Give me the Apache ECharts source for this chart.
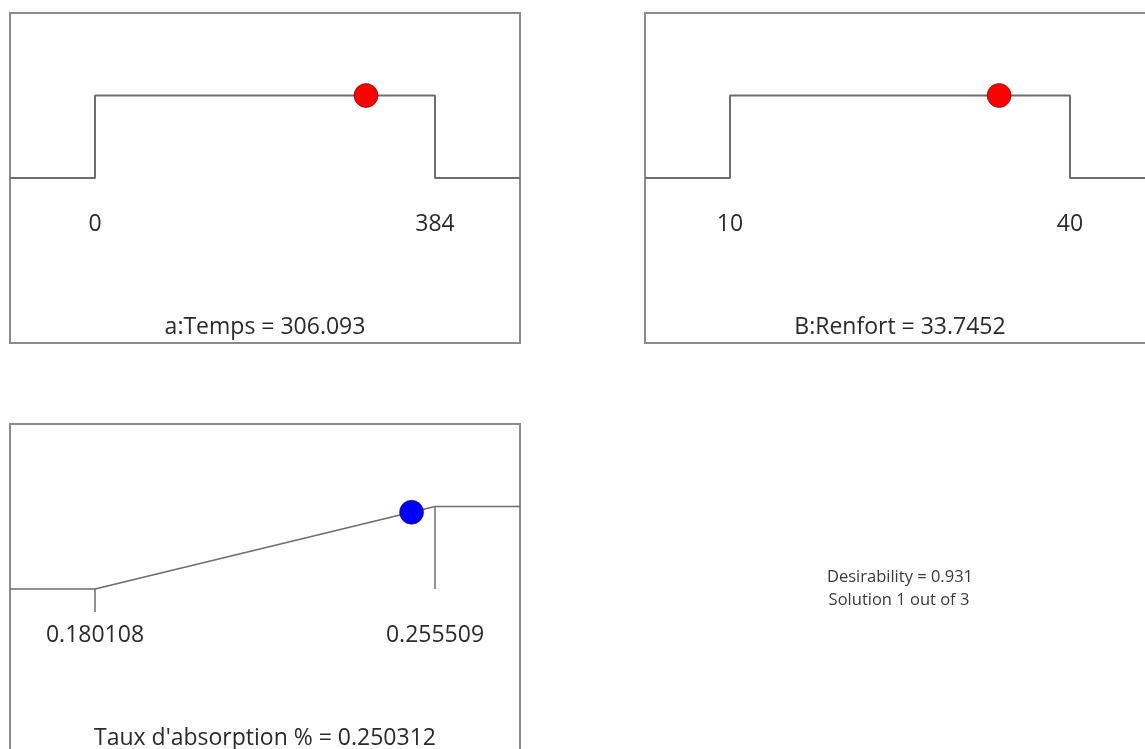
<!DOCTYPE html>
<html>
<head>
<meta charset="utf-8">
<script src="https://cdn.jsdelivr.net/npm/echarts@6/dist/echarts.min.js"></script>
<style>
  html, body { margin: 0; padding: 0; background: #ffffff; }
  #chart { width: 1145px; height: 749px; }
</style>
</head>
<body>
<div id="chart"></div>
<script>
// ---- data ----
const panelNames = ['a:Temps', 'B:Renfort', "Taux d'absorption %"];
const panelKinds = ['range', 'range', 'maximize'];
const lowLimits = [0, 10, 0.180108];
const highLimits = [384, 40, 0.255509];
const lowLabels = ['0', '10', '0.180108'];
const highLabels = ['384', '40', '0.255509'];
const solutionValues = [306.093, 33.7452, 0.250312];
const solutionLabels = ['306.093', '33.7452', '0.250312'];
const solutionDesirability = [1, 1, 0.931];
const dotColors = ['#ff0000', '#ff0000', '#0000ff'];
const overallDesirability = '0.931';
const solutionNumber = 1;
const solutionCount = 3;

// ---- layout ----
const boxes = [
  { left: 10, top: 13 },
  { left: 645, top: 13 },
  { left: 10, top: 424 }
];
const boxW = 510, boxH = 330;
const pad = 0.25;          // fraction of range shown beyond each limit
const yMin = -2, yMax = 2; // desirability axis range inside each box
const FONT = '"Open Sans", "Noto Sans", sans-serif';
const lineColor = '#6e6e6e';
const boxColor = '#8c8c8c';
const textColor = '#2b2b2b';

const grid = [], xAxis = [], yAxis = [], series = [], graphic = [];

boxes.forEach((b, i) => {
  const lo = lowLimits[i], hi = highLimits[i];
  const span = hi - lo;
  const xmin = lo - pad * span, xmax = hi + pad * span;
  grid.push({
    left: b.left, top: b.top, width: boxW, height: boxH,
    outerBoundsMode: 'none', containLabel: false,
    show: true, borderColor: boxColor, borderWidth: 2, backgroundColor: 'transparent'
  });
  const labelMap = {};
  labelMap[String(lo)] = lowLabels[i];
  labelMap[String(hi)] = highLabels[i];
  xAxis.push({
    gridIndex: i, type: 'value', min: xmin, max: xmax,
    position: 'bottom',
    offset: -boxH * (0 - yMin) / (yMax - yMin),   // place the axis at desirability 0
    axisLine: { show: false, onZero: false },
    splitLine: { show: false },
    axisTick: panelKinds[i] === 'maximize'
      ? { show: true, customValues: [lo], length: 23, lineStyle: { color: lineColor, width: 1.5 } }
      : { show: false },
    axisLabel: {
      show: true, customValues: [lo, hi], margin: 35,
      fontFamily: FONT, fontSize: 23, color: textColor,
      formatter: v => labelMap[String(v)] !== undefined ? labelMap[String(v)] : String(v)
    }
  });
  yAxis.push({ gridIndex: i, type: 'value', min: yMin, max: yMax, show: false });

  let pts;
  if (panelKinds[i] === 'range') {
    pts = [[xmin, 0], [lo, 0], [lo, 1], [hi, 1], [hi, 0], [xmax, 0]];
  } else {
    pts = [[xmin, 0], [lo, 0], [hi, 1], [xmax, 1]];
  }
  series.push({
    type: 'line', xAxisIndex: i, yAxisIndex: i, data: pts,
    symbol: 'none', lineStyle: { color: lineColor, width: panelKinds[i] === 'range' ? 2 : 1.5 },
    silent: true, animation: false, z: 2
  });
  if (panelKinds[i] === 'maximize') {
    series.push({
      type: 'line', xAxisIndex: i, yAxisIndex: i, data: [[hi, 1], [hi, 0]],
      symbol: 'none', lineStyle: { color: lineColor, width: 1.5 },
      silent: true, animation: false, z: 2
    });
  }
  series.push({
    type: 'scatter', xAxisIndex: i, yAxisIndex: i,
    data: [[solutionValues[i], solutionDesirability[i]]],
    symbolSize: 24,
    itemStyle: { color: dotColors[i], borderColor: 'rgba(60,20,20,0.6)', borderWidth: 1, opacity: 1 },
    silent: true, animation: false, z: 5
  });
  graphic.push({
    type: 'text', x: b.left + boxW / 2, y: b.top + 314,
    style: {
      text: panelNames[i] + ' = ' + solutionLabels[i],
      align: 'center', verticalAlign: 'middle',
      fontFamily: FONT, fontSize: 23, fill: textColor
    },
    z: 10
  });
});

graphic.push({
  type: 'text', x: 900, y: 577,
  style: {
    text: 'Desirability = ' + overallDesirability,
    align: 'center', verticalAlign: 'middle',
    fontFamily: FONT, fontSize: 16.5, fill: '#3a3a3a'
  }
});
graphic.push({
  type: 'text', x: 899, y: 600,
  style: {
    text: 'Solution ' + solutionNumber + ' out of ' + solutionCount,
    align: 'center', verticalAlign: 'middle',
    fontFamily: FONT, fontSize: 16.5, fill: '#3a3a3a'
  }
});

const chart = echarts.init(document.getElementById('chart'), null, { renderer: 'canvas' });
chart.setOption({
  backgroundColor: '#ffffff',
  animation: false,
  grid, xAxis, yAxis, series, graphic
});
</script>
</body>
</html>
